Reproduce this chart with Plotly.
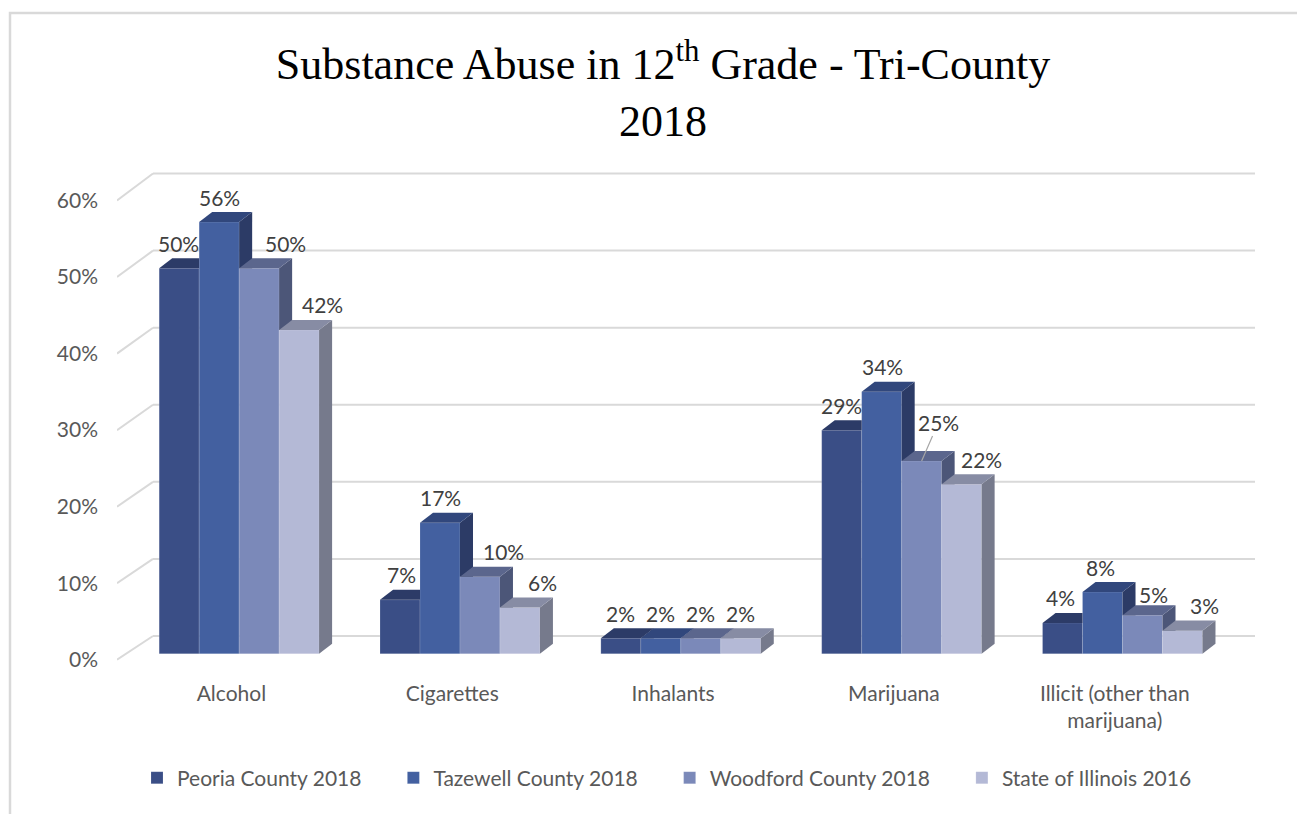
import plotly.graph_objects as go

# ---------------- data ----------------
categories = ["Alcohol", "Cigarettes", "Inhalants", "Marijuana", "Illicit (other than<br>marijuana)"]
series_names = ["Peoria County 2018", "Tazewell County 2018", "Woodford County 2018", "State of Illinois 2016"]
peoria = [50, 7, 2, 29, 4]
tazewell = [56, 17, 2, 34, 8]
woodford = [50, 10, 2, 25, 5]
illinois = [42, 6, 2, 22, 3]
y_ticks = [0, 10, 20, 30, 40, 50, 60]

series_values = [peoria, tazewell, woodford, illinois]

# ---------------- styles ----------------
front_colors = ["#3A4E86", "#4360A0", "#7B89B9", "#B4B9D6"]
top_colors = ["#2C3B67", "#31477C", "#5B668D", "#878CA4"]
side_colors = ["#26335A", "#2C3B66", "#4C5678", "#767A8C"]

SANS = "Lato, 'Open Sans', sans-serif"
SERIF = "'Liberation Serif', 'DejaVu Serif', serif"

bargap = 0.276
nser = len(series_values)
w = (1 - bargap) / nser          # bar width in axis units
DX = 0.059                       # 3D depth offset (x units)
DY = 1.30                        # 3D depth offset (y units)
BACK = 2.3                       # back-wall offset of gridlines
X_LEFT, X_RIGHT = -0.553, 4.60
X_BACK_LEFT = -0.39

# label shifts (px) per series per category
label_xshift = [
    [-1, 1, 0, 0, -2],
    [0, 1, 0, 1, -2],
    [26, 24, 0, 17, 11],
    [23, 23, 0, 20, 22],
]

fig = go.Figure()

PAD = "\u00a0" * 5
# front faces: real bar traces
for j, (name, vals) in enumerate(zip(series_names, series_values)):
    fig.add_trace(go.Bar(
        x=list(range(len(categories))), y=vals,
        name=name + (PAD if j < nser - 1 else ""),
        marker=dict(color=front_colors[j], line=dict(color="rgba(255,255,255,0.18)", width=0.8)),
        hoverinfo="skip",
    ))

# 3D top / side faces computed from the data
for i in range(len(categories)):
    for j in range(nser):
        v = series_values[j][i]
        x0 = i + (j - nser / 2) * w
        x1 = x0 + w
        h = series_values[j + 1][i] if j + 1 < nser else 0
        # side face, clipped by next bar's front
        if h <= v:
            lo = max(h, 0)
            sx = [x1, x1, x1 + DX, x1 + DX, x1]
            sy = [lo, v, v + DY, max(lo, DY), lo]
        else:
            t0 = (h - v) / DY
            if t0 < 1:
                sx = [x1 + t0 * DX, x1 + DX, x1 + DX, x1 + t0 * DX]
                sy = [h, v + DY, h, h]
            else:
                sx, sy = [], []
        if sx:
            fig.add_trace(go.Scatter(x=sx, y=sy, mode="lines", fill="toself",
                                     fillcolor=side_colors[j], line=dict(width=0),
                                     showlegend=False, hoverinfo="skip"))
        # top face
        if h > v:
            tx = [x0, x1, x1, x0 + DX, x0]
            ty = [v, v, v + DY, v + DY, v]
        else:
            tx = [x0, x1, x1 + DX, x0 + DX, x0]
            ty = [v, v, v + DY, v + DY, v]
        fig.add_trace(go.Scatter(x=tx, y=ty, mode="lines", fill="toself",
                                 fillcolor=top_colors[j], line=dict(width=0),
                                 showlegend=False, hoverinfo="skip"))

# gridlines on back wall + side wall diagonals
shapes = []
for t in y_ticks:
    yf = t * 0.993 - 0.78
    yb = t + BACK
    shapes.append(dict(type="line", xref="x", yref="y", x0=X_LEFT, y0=yf, x1=X_BACK_LEFT, y1=yb,
                       line=dict(color="#D9D9D9", width=2), layer="below"))
    shapes.append(dict(type="line", xref="x", yref="y", x0=X_BACK_LEFT, y0=yb, x1=X_RIGHT, y1=yb,
                       line=dict(color="#D9D9D9", width=2), layer="below"))
# outer chart border
shapes.append(dict(type="rect", xref="paper", yref="paper",
                   x0=(10 - 117) / 1138, x1=(1310 - 117) / 1138,
                   y0=-(830 - 663) / 491, y1=(663 - 13) / 491,
                   line=dict(color="#D9D9D9", width=2.5), layer="below"))

# data labels
annotations = []
for i in range(len(categories)):
    for j in range(nser):
        v = series_values[j][i]
        xc = i + (j - nser / 2 + 0.5) * w
        text = f"{v}%"
        if i == 3 and j == 2:
            annotations.append(dict(x=xc, y=v, xref="x", yref="y", text=text,
                                    showarrow=True, arrowhead=0, arrowwidth=1.2, arrowcolor="#A6A6A6",
                                    ax=17, ay=-39, standoff=0,
                                    font=dict(family=SANS, size=21, color="#404040")))
            continue
        ys = 15 if not (i == 4 and j == 2) else 11
        annotations.append(dict(x=xc, y=v + DY, xref="x", yref="y", text=text, showarrow=False,
                                xshift=label_xshift[j][i], yshift=ys, yanchor="middle",
                                font=dict(family=SANS, size=21, color="#404040")))

fig.update_layout(
    width=1297, height=814,
    margin=dict(l=117, r=42, t=172, b=151),
    paper_bgcolor="white", plot_bgcolor="white",
    barmode="group", bargap=bargap, bargroupgap=0,
    title=dict(text="Substance Abuse in 12<sup>th</sup> Grade - Tri-County<br>2018",
               x=663 / 1297, xanchor="center", xref="container",
               y=1 - 79 / 814, yanchor="top", yref="container",
               font=dict(family=SERIF, size=44, color="#000000")),
    xaxis=dict(range=[X_LEFT, X_RIGHT], tickvals=[i - 0.035 for i in range(len(categories))],
               ticktext=categories, showgrid=False, zeroline=False, showline=False, ticks="",
               ticklabelstandoff=16, tickfont=dict(family=SANS, size=21, color="#595959")),
    yaxis=dict(range=[-1.2, 62.5], tickvals=[t * 0.993 - 0.78 for t in y_ticks],
               ticktext=[f"{t}%" for t in y_ticks], showgrid=False, zeroline=False,
               showline=False, ticks="", ticklabelstandoff=18,
               tickfont=dict(family=SANS, size=21, color="#595959")),
    legend=dict(orientation="h", x=(667 - 117) / 1138, xanchor="center",
                y=-(778 - 663) / 491, yanchor="middle",
                font=dict(family=SANS, size=21, color="#595959"), traceorder="normal"),
    shapes=shapes, annotations=annotations,
)

fig.write_html("out.html", config={"displayModeBar": False},
               post_script="document.body.style.margin='0';")
